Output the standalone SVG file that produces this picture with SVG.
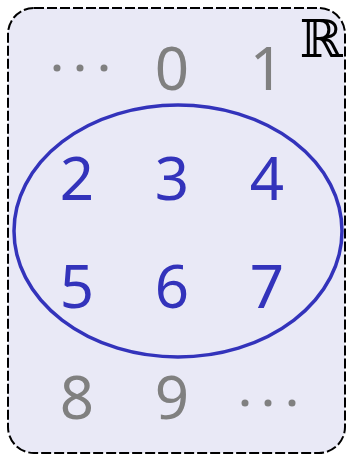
<svg xmlns="http://www.w3.org/2000/svg" width="346" height="455" viewBox="0 0 346 455">
<style>
.d{font-family:"Noto Sans","DejaVu Sans",sans-serif;font-size:60px;text-anchor:middle}
.g{fill:#808080}
.b{fill:#3333bb}
</style>
<g id="frame">
<rect x="8" y="8" width="337" height="445" rx="26" ry="26" fill="#e9e9f6" stroke="#000" stroke-width="2" stroke-dasharray="10,3"/>
<text x="321" y="57" font-family="DejaVu Serif,serif" font-size="52" text-anchor="middle" fill="#000">ℝ</text>
</g>
<g id="outside">
<circle cx="57" cy="68" r="3.5" class="g"/>
<circle cx="80" cy="68" r="3.5" class="g"/>
<circle cx="104" cy="68" r="3.5" class="g"/>
<text x="172" y="90" class="d g">0</text>
<text x="267" y="90" class="d g">1</text>
<text x="77" y="419" class="d g">8</text>
<text x="172" y="419" class="d g">9</text>
<circle cx="245" cy="403" r="3.5" class="g"/>
<circle cx="268" cy="403" r="3.5" class="g"/>
<circle cx="292" cy="403" r="3.5" class="g"/>
</g>
<g id="subset">
<ellipse cx="178" cy="231" rx="164" ry="126" fill="none" stroke="#3333bb" stroke-width="3.5"/>
<text x="77" y="200" class="d b">2</text>
<text x="172" y="200" class="d b">3</text>
<text x="267" y="200" class="d b">4</text>
<text x="77" y="308" class="d b">5</text>
<text x="172" y="308" class="d b">6</text>
<text x="267" y="308" class="d b">7</text>
</g>
</svg>
